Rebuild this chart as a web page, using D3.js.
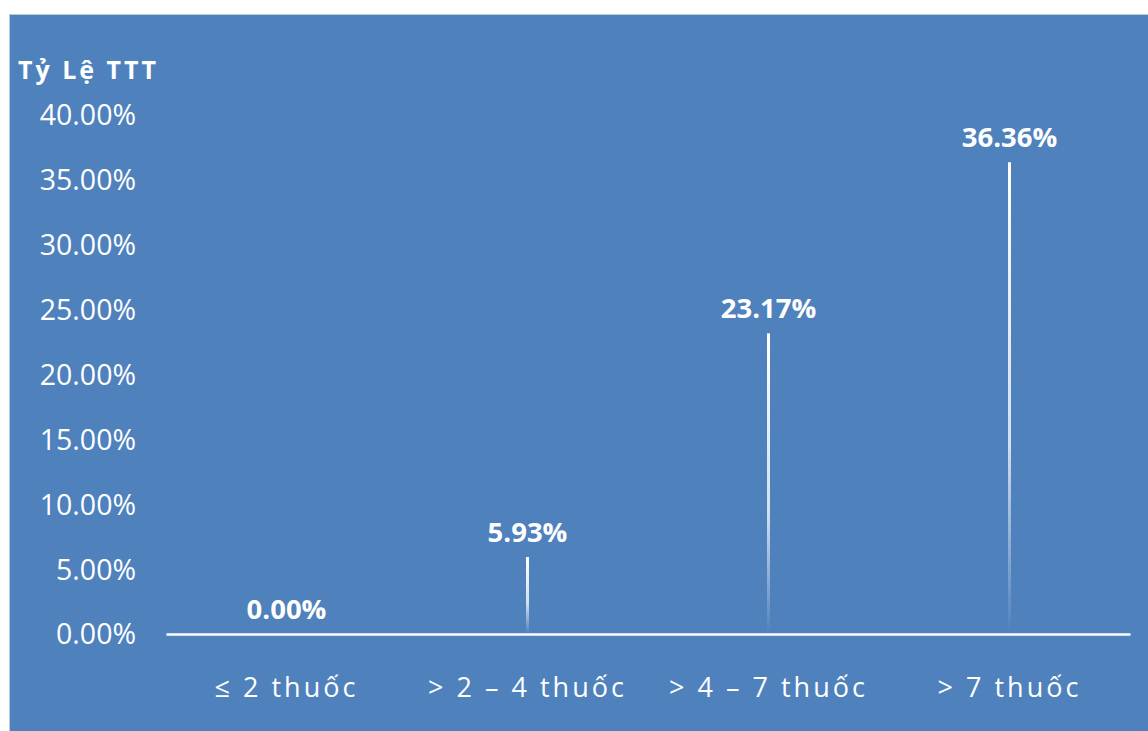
<!DOCTYPE html>
<html><head><meta charset="utf-8">
<script src="https://cdn.jsdelivr.net/npm/d3@7"></script>
<style>
html,body{margin:0;padding:0;background:#fff;}
svg{display:block;}
text{font-family:"Open Sans","Noto Sans",sans-serif;fill:#fff;}
</style></head>
<body>
<svg id="c" width="1148" height="731"></svg>
<script>
const categories = ["≤ 2 thuốc", "> 2 – 4 thuốc", "> 4 – 7 thuốc", "> 7 thuốc"];
const values = [0.0, 5.93, 23.17, 36.36];
const yTicks = [0, 5, 10, 15, 20, 25, 30, 35, 40];
const yTitle = "Tỷ Lệ TTT";

const svg = d3.select("#c");
const W = 1148, H = 731;
const m = {left:166, right:18, top:115, bottom:97};

svg.append("rect").attr("x",9.5).attr("y",14.5).attr("width",W-9).attr("height",H-14)
  .attr("fill","#4F81BD").attr("stroke","#b9c9e0").attr("stroke-width",1);

const x = d3.scaleBand().domain(categories).range([m.left, W - m.right]);
const y = d3.scaleLinear().domain([0, 40]).range([H - m.bottom, m.top]);

const defs = svg.append("defs");
const g = defs.append("linearGradient").attr("id","barGrad").attr("x1",0).attr("y1",0).attr("x2",0).attr("y2",1);
g.append("stop").attr("offset","0%").attr("stop-color","#ffffff").attr("stop-opacity",1);
g.append("stop").attr("offset","60%").attr("stop-color","#ffffff").attr("stop-opacity",0.75);
g.append("stop").attr("offset","100%").attr("stop-color","#ffffff").attr("stop-opacity",0);

// y axis
const yAxis = d3.axisLeft(y).tickValues(yTicks).tickFormat(d => d.toFixed(2) + "%").tickSize(0).tickPadding(0);
const ya = svg.append("g").attr("transform", `translate(136,0)`).call(yAxis);
ya.select(".domain").remove();
ya.selectAll("text").attr("font-size", 28.5).attr("fill","#fff").attr("dy","0.35em")
  .style("font-family","'Open Sans',sans-serif");

// bars
svg.append("g").selectAll("rect").data(values.map((v,i)=>({v, c:categories[i]})).filter(d=>d.v>0))
  .join("rect")
  .attr("x", d => x(d.c) + x.bandwidth()/2 - 1.5)
  .attr("width", 3)
  .attr("y", d => y(d.v))
  .attr("height", d => y(0) - y(d.v))
  .attr("fill","url(#barGrad)");

// x axis
const xAxis = d3.axisBottom(x).tickSize(0).tickPadding(54);
const xa = svg.append("g").attr("transform", `translate(0,${y(0)})`).call(xAxis);
xa.select(".domain").attr("stroke","#fff").attr("stroke-width",2.5);
xa.selectAll("text").attr("font-size", 27).attr("fill","#fff").attr("dy","0.35em")
  .style("letter-spacing","3px").style("font-family","'Open Sans',sans-serif");

// data labels
svg.append("g").selectAll("text").data(values.map((v,i)=>({v, c:categories[i]})))
  .join("text")
  .attr("x", d => x(d.c) + x.bandwidth()/2)
  .attr("y", d => y(d.v) - 25)
  .attr("dy","0.35em")
  .attr("text-anchor","middle")
  .attr("font-size", 27.5).attr("font-weight","bold")
  .text(d => d.v.toFixed(2) + "%");

// title
svg.append("text").attr("x",18).attr("y",70).attr("dy","0.35em")
  .attr("font-size",25).attr("font-weight","bold").style("letter-spacing","3px")
  .text(yTitle);
</script>
</body></html>
